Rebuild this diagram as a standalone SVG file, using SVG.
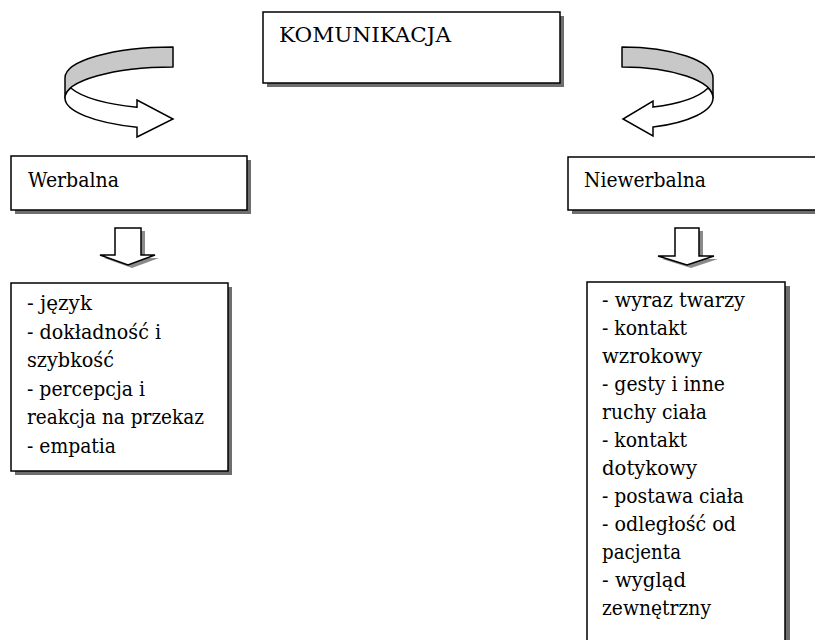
<svg xmlns="http://www.w3.org/2000/svg" width="815" height="640" viewBox="0 0 815 640">
<style>
.box{fill:#fff;stroke:#000;stroke-width:1.5}
.shadow{fill:#6e6e6e}
.t{font-family:'DejaVu Serif','Noto Serif','Liberation Serif',serif;font-size:21px;fill:#000}
.back{fill:#c8c8c8;stroke:#000;stroke-width:1.5;stroke-linejoin:round}
.front{fill:#fff;stroke:#000;stroke-width:1.5;stroke-linejoin:miter}
.ashadow{fill:#8a8a8a}
</style>
<rect width="815" height="640" fill="#fff"/>
<g id="komunikacja">
<rect class="shadow" x="267" y="16" width="297" height="71"/>
<rect class="box" x="263" y="12" width="297" height="71"/>
<text class="t" x="279" y="42" textLength="172" lengthAdjust="spacingAndGlyphs">KOMUNIKACJA</text>
</g>
<g id="werbalna">
<rect class="shadow" x="15" y="160" width="236" height="54"/>
<rect class="box" x="11" y="156" width="236" height="54"/>
<text class="t" x="28" y="187" textLength="91" lengthAdjust="spacingAndGlyphs">Werbalna</text>
</g>
<g id="niewerbalna">
<rect class="shadow" x="572" y="161" width="260" height="53"/>
<rect class="box" x="568" y="157" width="260" height="53"/>
<text class="t" x="584" y="187" textLength="122" lengthAdjust="spacingAndGlyphs">Niewerbalna</text>
</g>
<g id="werbalna-lista">
<rect class="shadow" x="15" y="287" width="217" height="188"/>
<rect class="box" x="11" y="283" width="217" height="188"/>
<text class="t" x="27" y="310" textLength="65" lengthAdjust="spacingAndGlyphs">- język</text>
<text class="t" x="27" y="338.5" textLength="134" lengthAdjust="spacingAndGlyphs">- dokładność i</text>
<text class="t" x="27" y="367" textLength="87" lengthAdjust="spacingAndGlyphs">szybkość</text>
<text class="t" x="27" y="395.5" textLength="118" lengthAdjust="spacingAndGlyphs">- percepcja i</text>
<text class="t" x="27" y="424" textLength="177" lengthAdjust="spacingAndGlyphs">reakcja na przekaz</text>
<text class="t" x="27" y="452.5" textLength="89" lengthAdjust="spacingAndGlyphs">- empatia</text>
</g>
<g id="niewerbalna-lista">
<rect class="shadow" x="591" y="286" width="199" height="370"/>
<rect class="box" x="587" y="282" width="198" height="370"/>
<text class="t" x="602" y="307" textLength="143" lengthAdjust="spacingAndGlyphs">- wyraz twarzy</text>
<text class="t" x="602" y="335" textLength="85" lengthAdjust="spacingAndGlyphs">- kontakt</text>
<text class="t" x="602" y="363" textLength="100" lengthAdjust="spacingAndGlyphs">wzrokowy</text>
<text class="t" x="602" y="391" textLength="123" lengthAdjust="spacingAndGlyphs">- gesty i inne</text>
<text class="t" x="602" y="419" textLength="105" lengthAdjust="spacingAndGlyphs">ruchy ciała</text>
<text class="t" x="602" y="447" textLength="85" lengthAdjust="spacingAndGlyphs">- kontakt</text>
<text class="t" x="602" y="475" textLength="95" lengthAdjust="spacingAndGlyphs">dotykowy</text>
<text class="t" x="602" y="503" textLength="142" lengthAdjust="spacingAndGlyphs">- postawa ciała</text>
<text class="t" x="602" y="531" textLength="134" lengthAdjust="spacingAndGlyphs">- odległość od</text>
<text class="t" x="602" y="559" textLength="79" lengthAdjust="spacingAndGlyphs">pacjenta</text>
<text class="t" x="602" y="587" textLength="84" lengthAdjust="spacingAndGlyphs">- wygląd</text>
<text class="t" x="602" y="615" textLength="109" lengthAdjust="spacingAndGlyphs">zewnętrzny</text>
</g>
<g id="connectors">
<g id="curved-left">
<path class="back" d="M173,47 A108,31 0 0 0 65,78 L65,98 A108,31 0 0 1 173,67 Z"/>
<path class="front" d="M70.8,88 A108,31 0 0 0 137,107.2 L137,100 L173,119 L137,137 L137,127.2 A108,31 0 0 1 65,98 A108,31 0 0 1 70.8,88 Z"/>
</g>
<g id="curved-right">
<path class="back" d="M622,47 A91,31 0 0 1 713,78 L713,98 A91,31 0 0 0 622,67 Z"/>
<path class="front" d="M708.1,88 A91,31 0 0 1 653,107.1 L653,101 L623,119 L653,136 L653,127.1 A91,31 0 0 0 713,98 A91,31 0 0 0 708.1,88 Z"/>
</g>
<g id="down-left">
<polygon class="ashadow" points="119,231 145,231 145,258 159,258 132,268 104,258 119,258"/>
<polygon class="box" points="115,228 141,228 141,255 155,255 128,265 100,255 115,255"/>
</g>
<g id="down-right">
<polygon class="ashadow" points="679,231 703,231 703,259 718,259 691,268 662,259 679,259"/>
<polygon class="box" points="675,228 699,228 699,256 714,256 687,265 658,256 675,256"/>
</g>
</g>
</svg>
